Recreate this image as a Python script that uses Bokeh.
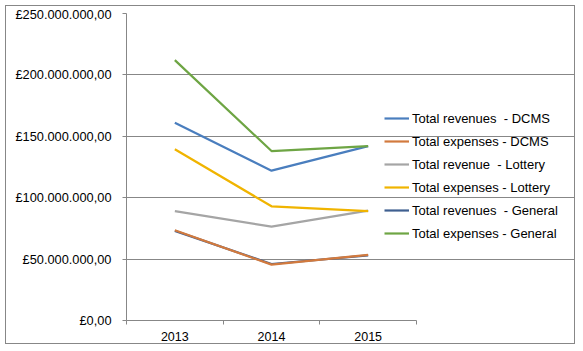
from bokeh.plotting import figure
from bokeh.models import Legend, LegendItem, FixedTicker, Range1d
from bokeh.embed import file_html
from bokeh.resources import INLINE

# ---- data ----
years = ["2013", "2014", "2015"]
rev_dcms = [161e6, 122e6, 142e6]
exp_dcms = [73.5e6, 45.5e6, 53.5e6]
rev_lottery = [89e6, 76.5e6, 89.5e6]
exp_lottery = [139.5e6, 93e6, 89e6]
rev_general = [73e6, 46e6, 53e6]
exp_general = [212e6, 138e6, 142e6]
series_labels = [
    "Total revenues  - DCMS",
    "Total expenses - DCMS",
    "Total revenue  - Lottery",
    "Total expenses - Lottery",
    "Total revenues  - General",
    "Total expenses - General",
]
y_ticks = [0, 50e6, 100e6, 150e6, 200e6, 250e6]
y_tick_labels = ["£0,00", "£50.000.000,00", "£100.000.000,00",
                 "£150.000.000,00", "£200.000.000,00", "£250.000.000,00"]

colors = ["#4a7ebe", "#d27a3e", "#a5a5a5", "#f0b400", "#3f5f90", "#6ea544"]
FONT = "Liberation Sans"
GRAY = "#878787"

x = list(range(1, len(years) + 1))
n = len(years)

# layout (canvas pixels)
W, H = 570, 339
FRAME_L, FRAME_T, FRAME_B = 120, 7, 314
CAT_PX = 96.67
frame_w = W - FRAME_L
x_end = 0.5 + frame_w / CAT_PX

p = figure(width=W, height=H, output_backend="svg", toolbar_location=None,
           x_range=Range1d(0.5, x_end), y_range=Range1d(y_ticks[0], y_ticks[-1]),
           min_border_left=FRAME_L, min_border_right=0,
           min_border_top=FRAME_T, min_border_bottom=H - FRAME_B,
           styles={"border": "1px solid " + GRAY, "margin-left": "5px", "margin-top": "5px"})
p.outline_line_color = None
p.background_fill_color = "white"
p.border_fill_color = "white"

# axes
p.xaxis.ticker = FixedTicker(ticks=x, minor_ticks=[i + 0.5 for i in range(0, n + 1)])
p.xaxis.major_label_overrides = {xi: yr for xi, yr in zip(x, years)}
p.xaxis.bounds = (0.5, n + 0.5)
p.xaxis.major_tick_out = 0
p.xaxis.major_tick_in = 0
p.xaxis.minor_tick_out = 4
p.xaxis.minor_tick_in = 0
p.xaxis.minor_tick_line_color = GRAY
p.xaxis.major_label_standoff = 7
p.xaxis.major_label_text_font_size = "12.5px"

p.yaxis.ticker = FixedTicker(ticks=y_ticks, minor_ticks=[])
p.yaxis.major_label_overrides = {t: l for t, l in zip(y_ticks, y_tick_labels)}
p.yaxis.major_tick_out = 4
p.yaxis.major_tick_in = 0
p.yaxis.major_label_standoff = 11
p.yaxis.major_label_text_font_size = "12.8px"

for ax in (p.xaxis, p.yaxis):
    ax.axis_line_color = GRAY
    ax.major_tick_line_color = GRAY
    ax.major_label_text_font = FONT
    ax.major_label_text_color = "black"

p.xgrid.grid_line_color = None
p.ygrid.grid_line_color = GRAY
p.ygrid.grid_line_width = 1
p.ygrid.bounds = (0.5, n + 0.5)

# lines (revenues-General drawn beneath expenses-DCMS as in the picture)
series = [rev_dcms, exp_dcms, rev_lottery, exp_lottery, rev_general, exp_general]
draw_order = [0, 4, 1, 2, 3, 5]
renderers = {}
for i in draw_order:
    renderers[i] = p.line(x, series[i], line_color=colors[i], line_width=2.2)

items = [LegendItem(label=series_labels[i], renderers=[renderers[i]]) for i in range(len(series))]
legend = Legend(items=items, location=(258, 77), orientation="vertical")
legend.label_text_font = FONT
legend.label_text_font_size = "13px"
legend.label_text_color = "black"
legend.glyph_width = 25
legend.glyph_height = 20
legend.label_height = 20
legend.spacing = 3
legend.label_standoff = 3
legend.padding = 0
legend.margin = 0
legend.border_line_color = None
legend.background_fill_color = None
p.add_layout(legend, "center")

open("out.html", "w").write(file_html(p, INLINE))
